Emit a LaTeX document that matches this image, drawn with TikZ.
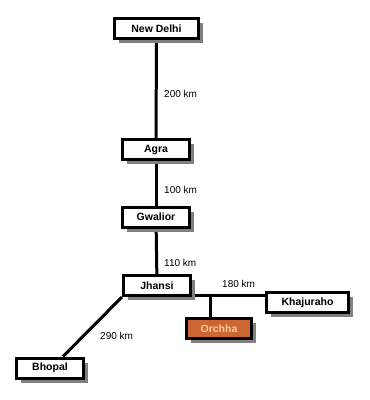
\documentclass[tikz,border=0pt]{standalone}
\usepackage{fontspec}
\setmainfont{Liberation Sans}
\usetikzlibrary{shadows,backgrounds}
\definecolor{orch}{HTML}{CC6633}
\definecolor{orchtext}{HTML}{FFCC99}
\begin{document}
\begin{tikzpicture}[x=1pt,y=-1pt,
  city/.style={draw=black, line width=3pt, fill=white, minimum height=20pt,
    inner sep=0pt, font=\bfseries\fontsize{10.5}{12}\selectfont,
    drop shadow={shadow xshift=4.5pt, shadow yshift=-4.5pt, fill=gray, opacity=1}},
  link/.style={line width=3pt},
  dist/.style={font=\fontsize{10}{12}\selectfont, anchor=west, inner sep=0pt}]
\useasboundingbox (0,0) rectangle (370,400);
\node[city, minimum width=84pt] (nd) at (156.5,28.5) {New Delhi};
\node[city, minimum width=67pt] (agra) at (156,149.5) {Agra};
\node[city, minimum width=67pt] (gwal) at (156,217) {Gwalior};
\node[city, minimum width=67pt] (jhan) at (157,285.5) {Jhansi};
\node[city, minimum width=82pt] (khaj) at (307.5,302.5) {Khajuraho};
\node[city, minimum width=65pt, fill=orch, text=orchtext] (orch) at (219,328.5) {Orchha};
\node[city, minimum width=67pt] (bhop) at (50,368) {Bhopal};
\coordinate (j) at (210,295);
\begin{scope}[on background layer]
\draw[link] (nd) -- (agra);
\draw[link] (agra) -- (gwal);
\draw[link] (gwal) -- (jhan);
\draw[link] (j -| jhan.east) -- (j -| khaj.west);
\draw[link] (j) -- (j |- orch.north);
\draw[link] (jhan.south west) -- ([xshift=13pt]bhop.north);
\end{scope}
\node[dist] (d1) at (164,94) {200 km};
\node[dist] (d2) at (164,190) {100 km};
\node[dist] (d3) at (164,263) {110 km};
\node[dist] (d4) at (222,284) {180 km};
\node[dist] (d5) at (100,336) {290 km};
\end{tikzpicture}
\end{document}
